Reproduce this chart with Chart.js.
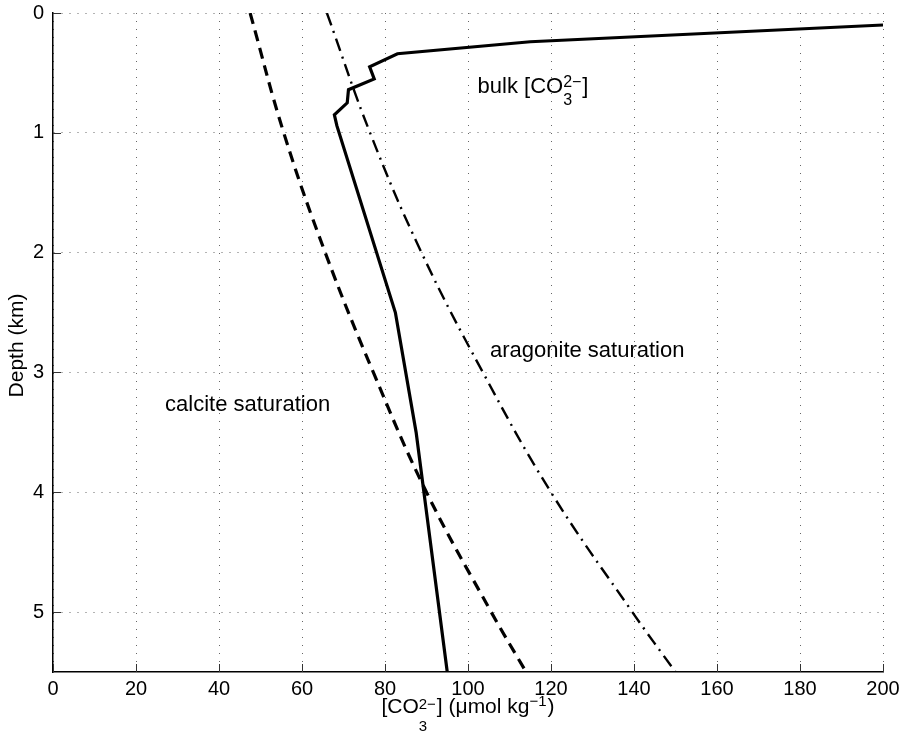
<!DOCTYPE html>
<html lang="en">
<head>
<meta charset="UTF-8">
<title>Carbonate ion concentration vs depth</title>
<script src="https://cdn.jsdelivr.net/npm/chart.js@4.4.1/dist/chart.umd.min.js"></script>
<style>
    html, body { margin: 0; padding: 0; background: #fff; }
    .wrap { width: 906px; height: 734px; }
</style>
</head>
<body>
<div class="wrap"><canvas id="co3Chart" width="906" height="734"></canvas></div>
<script>
    // bulk [CO3 2-] profile (umol/kg) against depth (km)
    const bulkDepth = [0.10, 0.24, 0.34, 0.45, 0.55, 0.64, 0.75, 0.85, 0.94, 2.5, 3.5, 5.5];
    const bulkCO3   = [200, 115, 83, 76.3, 77.4, 71.2, 70.9, 67.8, 68.4, 82.5, 87.5, 95];

    // saturation curves
    const satDepth      = [0, 1, 2, 3, 4, 5, 5.5];
    const calciteCO3    = [47.5, 55.6, 65.6, 77.2, 90, 105.6, 114];
    const aragoniteCO3  = [66, 76.4, 88.8, 103.6, 120, 139.6, 150];

    // tick labels
    const co3Ticks   = [0, 20, 40, 60, 80, 100, 120, 140, 160, 180, 200];
    const depthTicks = [0, 1, 2, 3, 4, 5];

    const FONT = '"Liberation Sans", Arial, Helvetica, sans-serif';

    function pts(xs, ys) {
        return xs.map((x, i) => ({ x: x, y: ys[i] }));
    }

    // text with sub/superscripts: parts are strings or {sub, sup}
    function drawRich(ctx, parts, x, y, size, align, supDy, subDy) {
        const small = Math.round(size * 0.72);
        const items = parts.map(p => {
            if (typeof p === 'string') {
                ctx.font = size + 'px ' + FONT;
                return { p: p, w: ctx.measureText(p).width };
            }
            ctx.font = small + 'px ' + FONT;
            const w = Math.max(p.sub ? ctx.measureText(p.sub).width : 0,
                               p.sup ? ctx.measureText(p.sup).width : 0);
            return { p: p, w: w + 1 };
        });
        const total = items.reduce((a, it) => a + it.w, 0);
        let cx = align === 'center' ? x - total / 2 : x;
        ctx.fillStyle = '#000';
        ctx.textBaseline = 'alphabetic';
        ctx.textAlign = 'left';
        items.forEach(it => {
            if (typeof it.p === 'string') {
                ctx.font = size + 'px ' + FONT;
                ctx.fillText(it.p, cx, y);
            } else {
                ctx.font = small + 'px ' + FONT;
                if (it.p.sup) ctx.fillText(it.p.sup, cx, y + (it.p.sub ? supDy : supDy - 3));
                if (it.p.sub) ctx.fillText(it.p.sub, cx, y + subDy);
            }
            cx += it.w;
        });
    }

    const decorations = {
        id: 'decorations',
        afterDraw(chart) {
            const ctx = chart.ctx;
            const xs = chart.scales.x, ys = chart.scales.y;
            const area = chart.chartArea;
            ctx.save();
            // inward tick marks
            ctx.strokeStyle = '#333';
            ctx.lineWidth = 1;
            ctx.beginPath();
            co3Ticks.forEach(v => {
                const px = Math.round(xs.getPixelForValue(v)) + 0.5;
                ctx.moveTo(px, area.bottom);
                ctx.lineTo(px, area.bottom - 8);
            });
            depthTicks.forEach(v => {
                const py = Math.round(ys.getPixelForValue(v)) + 0.5;
                ctx.moveTo(area.left, py);
                ctx.lineTo(area.left + 8, py);
            });
            ctx.stroke();

            // axis titles
            drawRich(ctx, ['[CO', { sub: '3', sup: '2\u2212' }, '] (\u03bcmol kg', { sup: '\u22121' }, ')'],
                (area.left + area.right) / 2, 713, 21, 'center', -4, 18);

            ctx.save();
            ctx.translate(17, (area.top + area.bottom) / 2 + 3);
            ctx.rotate(-Math.PI / 2);
            ctx.font = '21px ' + FONT;
            ctx.fillStyle = '#000';
            ctx.textAlign = 'center';
            ctx.textBaseline = 'middle';
            ctx.fillText('Depth (km)', 0, 0);
            ctx.restore();

            // curve labels
            drawRich(ctx, ['bulk [CO', { sub: '3', sup: '2\u2212' }, ']'],
                xs.getPixelForValue(102.3), ys.getPixelForValue(0.67), 22, 'left', -6, 12);
            drawRich(ctx, ['aragonite saturation'],
                xs.getPixelForValue(105.3), ys.getPixelForValue(2.87), 22, 'left', 0, 0);
            drawRich(ctx, ['calcite saturation'],
                xs.getPixelForValue(27), ys.getPixelForValue(3.32), 22, 'left', 0, 0);
            ctx.restore();
        }
    };

    const ctx = document.getElementById('co3Chart').getContext('2d');
    new Chart(ctx, {
        type: 'line',
        data: {
            datasets: [
                {
                    label: 'bulk',
                    data: pts(bulkCO3, bulkDepth),
                    borderColor: '#000',
                    borderWidth: 3.2,
                    pointRadius: 0,
                    tension: 0,
                    fill: false
                },
                {
                    label: 'calcite saturation',
                    data: pts(calciteCO3, satDepth),
                    borderColor: '#000',
                    borderWidth: 3.2,
                    borderDash: [11, 7],
                    pointRadius: 0,
                    tension: 0.4,
                    fill: false
                },
                {
                    label: 'aragonite saturation',
                    data: pts(aragoniteCO3, satDepth),
                    borderColor: '#000',
                    borderWidth: 2.4,
                    borderDash: [13, 6, 2, 6],
                    pointRadius: 0,
                    tension: 0.4,
                    fill: false
                }
            ]
        },
        options: {
            responsive: false,
            devicePixelRatio: 1,
            animation: false,
            layout: { padding: { top: 13, right: 23, left: 0, bottom: 0 } },
            plugins: {
                legend: { display: false },
                tooltip: { enabled: false }
            },
            scales: {
                x: {
                    type: 'linear',
                    position: 'bottom',
                    min: 0,
                    max: 200,
                    bounds: 'data',
                    afterBuildTicks: s => { s.ticks = co3Ticks.map(v => ({ value: v })); },
                    afterFit: s => { s.height = 62; s.paddingLeft = 0; s.paddingRight = 0; },
                    ticks: {
                        color: '#000',
                        font: { family: FONT, size: 20 },
                        padding: 5,
                        maxRotation: 0,
                        autoSkip: false
                    },
                    grid: { color: 'rgba(0,0,0,0.6)', lineWidth: 1, drawTicks: false },
                    border: { display: true, color: '#000', width: 1.5, dash: [1, 7] }
                },
                y: {
                    type: 'linear',
                    reverse: true,
                    min: 0,
                    max: 5.5,
                    bounds: 'data',
                    afterBuildTicks: s => { s.ticks = depthTicks.map(v => ({ value: v })); },
                    afterFit: s => { s.width = 53; s.paddingTop = 0; s.paddingBottom = 0; },
                    ticks: {
                        color: '#000',
                        font: { family: FONT, size: 20 },
                        padding: 9,
                        autoSkip: false
                    },
                    grid: { color: 'rgba(0,0,0,0.6)', lineWidth: 1, drawTicks: false },
                    border: { display: true, color: '#000', width: 1.5, dash: [1, 7] }
                }
            }
        },
        plugins: [decorations]
    });
</script>
</body>
</html>
